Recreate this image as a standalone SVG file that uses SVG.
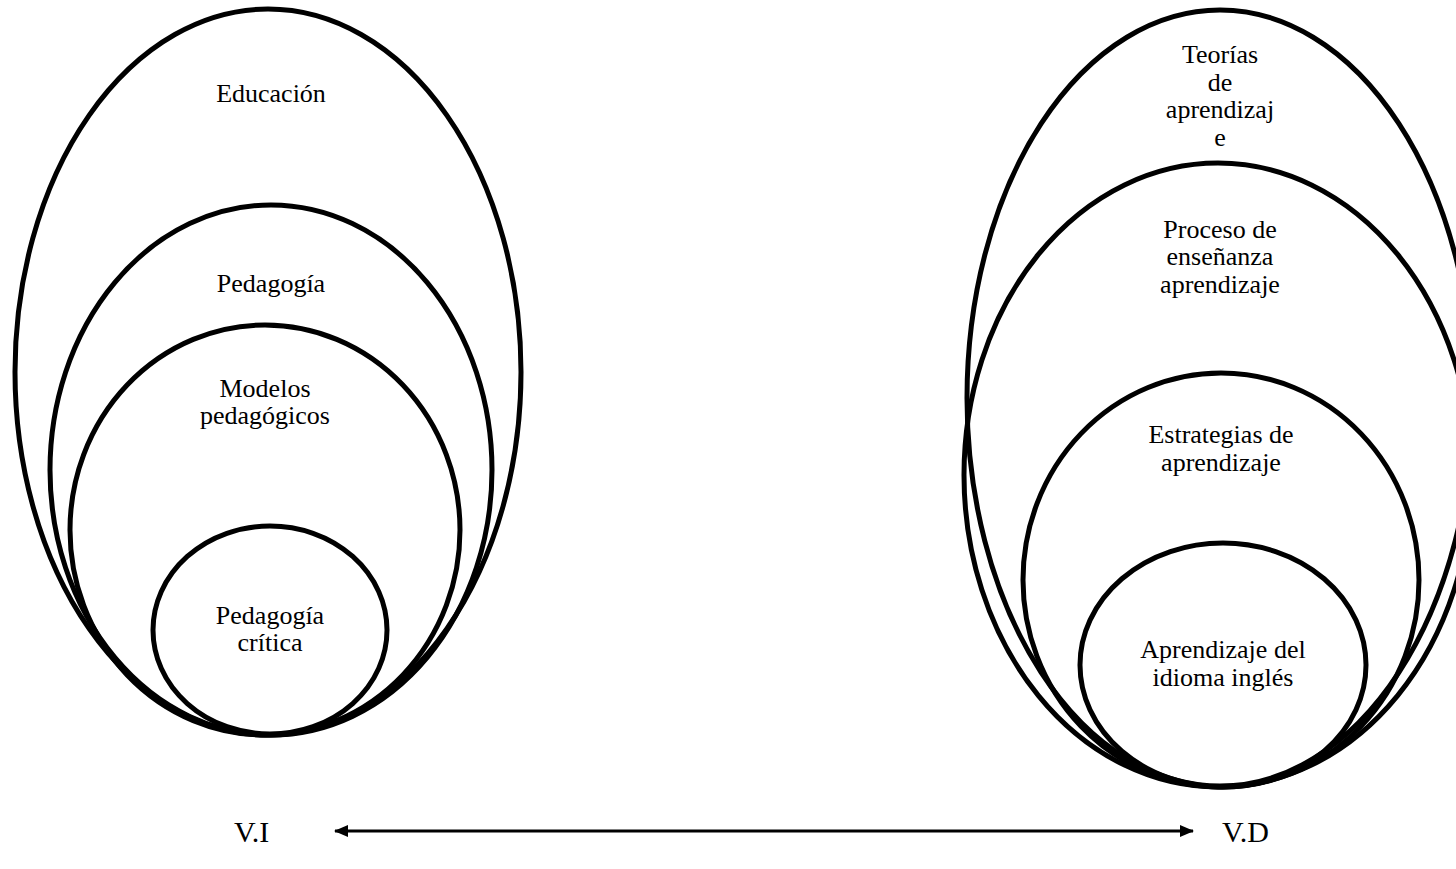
<svg xmlns="http://www.w3.org/2000/svg" width="1456" height="869" viewBox="0 0 1456 869">
<defs>
<style>
.e{fill:none;stroke:#000;stroke-width:5}
.t{font-family:"Liberation Serif","Times New Roman",serif;font-size:26px;fill:#000;text-anchor:middle}
.l{font-family:"Liberation Serif","Times New Roman",serif;font-size:30px;fill:#000}
.c{stroke:#000;stroke-width:3;fill:none}
</style>
<marker id="ah" viewBox="0 0 14 12" refX="13" refY="6" markerWidth="14" markerHeight="12" markerUnits="userSpaceOnUse" orient="auto-start-reverse">
<path d="M0,0 L14,6 L0,12 Z" fill="#000"/>
</marker>
</defs>
<rect width="1456" height="869" fill="#fff"/>
<g id="vi-educacion">
<ellipse class="e" cx="268" cy="372" rx="253" ry="363"/>
<text class="t" x="271" y="102">Educación</text>
</g>
<g id="vi-pedagogia">
<ellipse class="e" cx="271" cy="470" rx="221" ry="265"/>
<text class="t" x="271" y="292">Pedagogía</text>
</g>
<g id="vi-modelos">
<ellipse class="e" cx="265" cy="530" rx="195" ry="205"/>
<text class="t" x="265" y="397">Modelos</text>
<text class="t" x="265" y="424">pedagógicos</text>
</g>
<g id="vi-critica">
<ellipse class="e" cx="270" cy="630" rx="117" ry="104"/>
<text class="t" x="270" y="624">Pedagogía</text>
<text class="t" x="270" y="651">crítica</text>
</g>
<g id="vd-teorias">
<ellipse class="e" cx="1220" cy="398" rx="253" ry="388"/>
<text class="t" x="1220" y="63">Teorías</text>
<text class="t" x="1220" y="91">de</text>
<text class="t" x="1220" y="118">aprendizaj</text>
<text class="t" x="1220" y="146">e</text>
</g>
<g id="vd-proceso">
<ellipse class="e" cx="1218" cy="475" rx="254" ry="312"/>
<text class="t" x="1220" y="238">Proceso de</text>
<text class="t" x="1220" y="265">enseñanza</text>
<text class="t" x="1220" y="293">aprendizaje</text>
</g>
<g id="vd-estrategias">
<ellipse class="e" cx="1221" cy="580" rx="198" ry="207"/>
<text class="t" x="1221" y="443">Estrategias de</text>
<text class="t" x="1221" y="471">aprendizaje</text>
</g>
<g id="vd-aprendizaje">
<ellipse class="e" cx="1223" cy="665" rx="143" ry="122"/>
<text class="t" x="1223" y="658">Aprendizaje del</text>
<text class="t" x="1223" y="686">idioma inglés</text>
</g>
<g id="label-vi">
<text class="l" x="234" y="842">V.I</text>
</g>
<g id="label-vd">
<text class="l" x="1222" y="842">V.D</text>
</g>
<g id="connectors">
<line class="c" x1="335" y1="831" x2="1193" y2="831" marker-start="url(#ah)" marker-end="url(#ah)"/>
</g>
</svg>
